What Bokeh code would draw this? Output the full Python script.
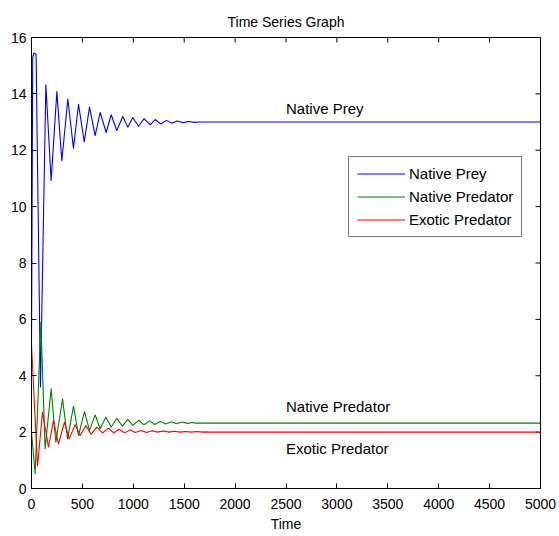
from bokeh.plotting import figure
from bokeh.models import Range1d, FixedTicker, Legend, LegendItem
from bokeh.core.properties import value
from bokeh.embed import file_html
from bokeh.resources import INLINE

# ---- data (turning points of each series) ----
prey_t = [0, 12, 25, 45, 88, 141, 193, 249, 298, 357, 412, 462, 518, 570, 625, 675, 733,
          783, 838, 897, 946, 995, 1051, 1107, 1166, 1215, 1270, 1325, 1380, 1430, 1490,
          1540, 1600, 1650, 5000]
prey_v = [5.0, 15.3, 15.45, 15.4, 3.6, 14.32, 10.93, 14.08, 11.63, 13.82, 12.07, 13.63,
          12.3, 13.53, 12.52, 13.34, 12.63, 13.26, 12.7, 13.2, 12.82, 13.16, 12.85, 13.12,
          12.9, 13.09, 12.93, 13.06, 12.96, 13.04, 12.98, 13.02, 12.99, 13.0, 13.0]

npred_t = [0, 36, 92, 134, 193, 239, 305, 354, 413, 462, 521, 570, 625, 675, 730, 783,
           838, 893, 946, 995, 1054, 1105, 1160, 1210, 1265, 1320, 1375, 1425, 1480,
           1530, 1580, 1620, 5000]
npred_v = [2.0, 0.52, 5.9, 1.41, 3.54, 1.64, 3.18, 1.76, 2.92, 1.88, 2.73, 2.06, 2.61,
           2.12, 2.53, 2.18, 2.49, 2.21, 2.45, 2.24, 2.42, 2.26, 2.4, 2.27, 2.38, 2.29,
           2.37, 2.3, 2.36, 2.31, 2.34, 2.32, 2.32]

epred_t = [0, 59, 108, 167, 216, 265, 324, 370, 429, 478, 534, 586, 642, 697, 756, 806,
           860, 915, 968, 1020, 1075, 1130, 1185, 1240, 1295, 1350, 1405, 1460, 1515,
           1570, 1625, 1680, 1720, 1750, 5000]
epred_v = [5.1, 0.8, 2.7, 1.47, 2.41, 1.58, 2.35, 1.76, 2.26, 1.88, 2.23, 1.93, 2.18,
           1.97, 2.14, 1.97, 2.1, 1.98, 2.08, 1.99, 2.06, 1.99, 2.05, 2.0, 2.04, 2.0,
           2.03, 2.0, 2.02, 2.0, 2.02, 2.0, 2.01, 2.0, 2.0]

series_names = ["Native Prey", "Native Predator", "Exotic Predator"]
series_colors = ["#0000ff", "#008000", "#ff0000"]

x_ticks = [0, 500, 1000, 1500, 2000, 2500, 3000, 3500, 4000, 4500, 5000]
y_ticks = [0, 2, 4, 6, 8, 10, 12, 14, 16]

FONT = "Liberation Sans"
X0, X1, Y0, Y1 = 0, 5000, 0, 16

W, H = 559, 536
BL, BR, BT, BB = 31, 19, 37, 48
FW, FH = W - BL - BR, H - BT - BB
TICK = 5

p = figure(width=W, height=H, output_backend="svg", toolbar_location=None,
           x_range=Range1d(X0, X1), y_range=Range1d(Y0, Y1),
           min_border_left=BL, min_border_right=BR, min_border_top=BT,
           min_border_bottom=BB)
p.title.text = "Time Series Graph"
p.title.align = "center"
p.title.text_font = FONT
p.title.text_font_size = "14px"
p.title.text_font_style = "normal"
p.title.text_color = "black"
p.title.standoff = 16

p.grid.visible = False
p.outline_line_color = "black"
p.outline_line_width = 1
p.background_fill_color = "white"
p.border_fill_color = "white"

for ax in (p.xaxis[0], p.yaxis[0]):
    ax.major_tick_in = TICK
    ax.major_tick_out = 0
    ax.minor_tick_line_color = None
    ax.axis_line_color = "black"
    ax.major_tick_line_color = "black"
    ax.major_label_text_font = FONT
    ax.major_label_text_font_size = "14px"
    ax.major_label_text_color = "black"
    ax.axis_label_text_font = FONT
    ax.axis_label_text_font_size = "14px"
    ax.axis_label_text_font_style = "normal"
    ax.axis_label_text_color = "black"

p.xaxis[0].ticker = FixedTicker(ticks=x_ticks)
p.yaxis[0].ticker = FixedTicker(ticks=y_ticks)
p.xaxis[0].axis_label = "Time"
p.xaxis[0].major_label_standoff = 10
p.xaxis[0].axis_label_standoff = 4
p.yaxis[0].major_label_standoff = 5

# mirrored inward ticks on top and right edges (box on)
dy = TICK * (Y1 - Y0) / FH
dx = TICK * (X1 - X0) / FW
p.segment(x0=x_ticks, y0=[Y1] * len(x_ticks), x1=x_ticks, y1=[Y1 - dy] * len(x_ticks),
          line_color="black", line_width=1)
p.segment(x0=[X1] * len(y_ticks), y0=y_ticks, x1=[X1 - dx] * len(y_ticks), y1=y_ticks,
          line_color="black", line_width=1)

r1 = p.line(prey_t, prey_v, line_color=series_colors[0], line_width=1.1, line_join="round")
r2 = p.line(npred_t, npred_v, line_color=series_colors[1], line_width=1.1, line_join="round")
r3 = p.line(epred_t, epred_v, line_color=series_colors[2], line_width=1.1, line_join="round")

p.text(x=[2500, 2500, 2500], y=[13.48, 2.91, 1.43], text=series_names,
       text_font=value(FONT), text_font_size="15px", text_baseline="middle",
       text_align="left", text_color="black")

legend = Legend(items=[LegendItem(label=series_names[i], renderers=[r])
                       for i, r in enumerate([r1, r2, r3])],
                location=(317, 251))
legend.label_text_font = FONT
legend.label_text_font_size = "15px"
legend.label_text_color = "black"
legend.glyph_width = 48
legend.glyph_height = 13
legend.label_height = 13
legend.label_standoff = 4
legend.spacing = 6
legend.padding = 8
legend.margin = 0
legend.border_line_color = "black"
legend.border_line_width = 1
legend.background_fill_color = "white"
legend.background_fill_alpha = 1
p.add_layout(legend, "center")

open("out.html", "w").write(file_html(p, INLINE))
